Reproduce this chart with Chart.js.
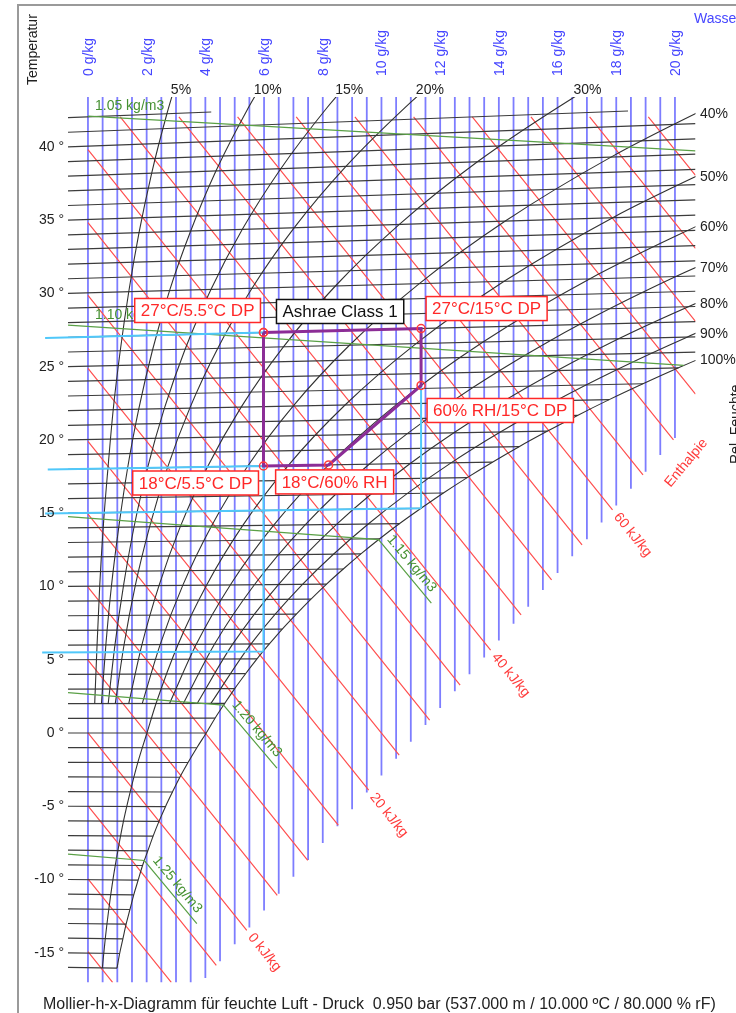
<!DOCTYPE html>
<html>
<head>
<meta charset="utf-8">
<script src="https://cdn.jsdelivr.net/npm/chart.js@4.4.1/dist/chart.umd.min.js"></script>
<style>
  html, body { margin: 0; padding: 0; background: #fff; }
  #wrap { width: 736px; height: 1013px; position: relative; }
</style>
</head>
<body>
<div id="wrap"><canvas id="myChart"></canvas></div>
<script>
// grid values
const waterLines = [0, 0.5, 1, 1.5, 2, 2.5, 3, 3.5, 4, 4.5, 5, 5.5, 6, 6.5, 7, 7.5, 8, 8.5, 9, 9.5, 10,
  10.5, 11, 11.5, 12, 12.5, 13, 13.5, 14, 14.5, 15, 15.5, 16, 16.5, 17, 17.5, 18, 18.5, 19, 19.5, 20];
const waterTicks = [0, 2, 4, 6, 8, 10, 12, 14, 16, 18, 20];
const tempLines = [-16, -15, -14, -13, -12, -11, -10, -9, -8, -7, -6, -5, -4, -3, -2, -1, 0, 1, 2, 3, 4, 5,
  6, 7, 8, 9, 10, 11, 12, 13, 14, 15, 16, 17, 18, 19, 20, 21, 22, 23, 24, 25, 26, 27, 28, 29, 30, 31, 32,
  33, 34, 35, 36, 37, 38, 39, 40, 41, 42];
const tempTicks = [-15, -10, -5, 0, 5, 10, 15, 20, 25, 30, 35, 40];
const enthalpyLines = [-15, -10, -5, 0, 5, 10, 15, 20, 25, 30, 35, 40, 45, 50, 55, 60, 65, 70, 75, 80, 85, 90];
const enthalpyTicks = [0, 20, 40, 60];

// saturation line (100 %), water content in g/kg
const satTemps = [-16, -15, -14, -13, -12, -11, -10, -9, -8, -7, -6, -5, -4, -3, -2, -1, 0, 1, 2, 3, 4, 5,
  6, 7, 8, 9, 10, 11, 12, 13, 14, 15, 16, 17, 18, 19, 20, 21, 22, 23, 24, 25];
const satX = [0.99, 1.08, 1.19, 1.30, 1.43, 1.56, 1.71, 1.86, 2.04, 2.22, 2.42, 2.64, 2.88, 3.13, 3.41, 3.71,
  4.03, 4.33, 4.66, 5.00, 5.37, 5.76, 6.18, 6.62, 7.10, 7.60, 8.13, 8.70, 9.30, 9.94, 10.62, 11.35, 12.11,
  12.92, 13.78, 14.69, 15.66, 16.68, 17.76, 18.91, 20.12, 21.40];
const isoCutTemps = [41, 42];
const isoCutX = [18.4, 4.2];

// relative humidity curves
const rhTemps = [2, 6, 10, 14, 18, 22, 26, 30, 34, 38, 42, 44];
const rh5 = [0.23, 0.31, 0.40, 0.52, 0.68, 0.86, 1.10, 1.39, 1.74, 2.17, 2.69, 2.99];
const rh10 = [0.46, 0.61, 0.80, 1.05, 1.35, 1.73, 2.20, 2.78, 3.50, 4.36, 5.41, 6.01];
const rh15 = [0.69, 0.92, 1.21, 1.57, 2.03, 2.60, 3.31, 4.19, 5.26, 6.57, 8.15, 9.06];
const rh20 = [0.93, 1.23, 1.61, 2.10, 2.71, 3.47, 4.42, 5.59, 7.03, 8.79, 10.92, 12.14];
const rh30 = [1.39, 1.84, 2.42, 3.15, 4.07, 5.22, 6.66, 8.43, 10.61, 13.27, 16.52, 18.40];
const rh40 = [1.85, 2.46, 3.23, 4.21, 5.44, 6.99, 8.91, 11.29, 14.22, 17.82, 22.22];
const rh60 = [2.78, 3.69, 4.85, 6.33, 8.20, 10.54, 13.46, 17.09, 21.58];
const rh70 = [3.25, 4.31, 5.67, 7.40, 9.58, 12.33, 15.76, 20.03, 25.33];
const rh80 = [3.72, 4.93, 6.49, 8.47, 10.98, 14.13, 18.08, 22.99];
const rh90 = [4.19, 5.55, 7.31, 9.55, 12.37, 15.94, 20.41, 25.99];
const rh50Temps = [-16, -14, -12, -10, -8, -6, -4, -2, 0, 2, 6, 10, 14, 18, 22, 26, 30, 34, 38];
const rh50 = [0.49, 0.59, 0.71, 0.85, 1.02, 1.21, 1.44, 1.70, 2.01, 2.32, 3.07, 4.04, 5.27, 6.82, 8.76,
  11.18, 14.18, 17.88, 22.44];

// density lines
const densityNames = ['1.05 kg/m3', '1.10 kg/m3', '1.15 kg/m3', '1.20 kg/m3', '1.25 kg/m3'];
const densityX = [[0, 20.7], [-0.68, 20.3], [-0.68, 9.9, 11.7], [-0.68, 4.62, 6.44], [-0.68, 1.92, 3.71]];
const densityT = [[42.04, 38.21], [27.83, 24.15], [14.76, 12.94, 8.67], [2.76, 1.88, -2.36], [-8.27, -8.66, -12.91]];

// Ashrae class 1 envelope
const stateLabels = ['27°C/5.5°C DP', '27°C/15°C DP', '60% RH/15°C DP', '18°C/60% RH', '18°C/5.5°C DP'];
const stateT = [27, 27, 23.2, 18, 18];
const stateX = [5.98, 11.35, 11.35, 8.2, 5.98];
const guideT = [27, 18, 15, 5.5];
const guideFromX = [-1.46, -1.37, -1.46, -1.56];
const guideToX = [5.98, 5.98, 11.35, 5.98];
const dropX = [5.98, 11.35];
const dropFromT = [5.5, 15];
const dropToT = [18, 23.2];

// diagram geometry
const xLeft = -0.68, xRight = 20.7, yTop = 43.35, yBottom = -17;
const hTopCut = 42.0;
const skew = (t, x) => t * (1 + 1.86 * x / 1006);
const enthalpyY = (h, x) => (h - 2.501 * x) / 1.006;
const fogEdge = x => Math.max(yBottom, 2.3 * x - 25.9);
const P = (x, t) => ({ x: x, y: skew(t, x) });
const GAP = { x: NaN, y: NaN };

function enthalpySeg(h) {
  let x0 = 0, y0 = enthalpyY(h, 0);
  if (y0 > hTopCut) { x0 = (h - 1.006 * hTopCut) / 2.501; y0 = hTopCut; }
  let x1 = (h + 25.9 * 1.006) / (2.501 + 2.3 * 1.006);
  if (enthalpyY(h, x1) < yBottom) x1 = (h - 1.006 * yBottom) / 2.501;
  if (x1 > xRight) x1 = xRight;
  return [{ x: x0, y: y0 }, { x: x1, y: enthalpyY(h, x1) }];
}

function isoEnd(t) {
  const c = isoCutTemps.indexOf(t);
  if (c >= 0) return isoCutX[c];
  const s = satTemps.indexOf(t);
  return s >= 0 ? Math.min(satX[s], xRight) : xRight;
}

let blueData = [];
waterLines.forEach(w => blueData.push({ x: w, y: yTop }, { x: w, y: fogEdge(w) }, GAP));

let redData = [];
enthalpyLines.forEach(h => redData.push(...enthalpySeg(h), GAP));

let isoData = [];
tempLines.forEach(t => isoData.push(P(xLeft, t), P(isoEnd(t), t), GAP));

const rhCurves = [
  { label: '5%', t: rhTemps, x: rh5 },
  { label: '10%', t: rhTemps, x: rh10 },
  { label: '15%', t: rhTemps, x: rh15 },
  { label: '20%', t: rhTemps, x: rh20 },
  { label: '30%', t: rhTemps, x: rh30 },
  { label: '40%', t: rhTemps, x: rh40 },
  { label: '50%', t: rh50Temps, x: rh50 },
  { label: '60%', t: rhTemps, x: rh60 },
  { label: '70%', t: rhTemps, x: rh70 },
  { label: '80%', t: rhTemps, x: rh80 },
  { label: '90%', t: rhTemps, x: rh90 },
  { label: '100%', t: satTemps, x: satX }
];

let greenData = [];
densityX.forEach((xs, i) => {
  xs.forEach((x, j) => greenData.push(P(x, densityT[i][j])));
  greenData.push(GAP);
});

let cyanData = [];
guideT.forEach((t, i) => cyanData.push(P(guideFromX[i], t), P(guideToX[i], t), GAP));
dropX.forEach((x, i) => cyanData.push(P(x, dropFromT[i]), P(x, dropToT[i]), GAP));

let purpleData = stateX.map((x, i) => P(x, stateT[i]));
purpleData.push(purpleData[0]);

const lineSet = (data, color, width, order, extra) => Object.assign({
  data: data, borderColor: color, borderWidth: width, pointRadius: 0,
  showLine: true, spanGaps: false, order: order
}, extra || {});

const datasets = [
  lineSet(blueData, 'rgb(125,125,255)', 1.8, 8),
  lineSet(redData, 'rgb(255,80,80)', 1.2, 7),
  lineSet(isoData, 'rgb(60,60,60)', 1.2, 6)
];
rhCurves.forEach(c => datasets.push(lineSet(c.x.map((x, i) => P(x, c.t[i])), 'rgb(50,50,50)', 1.1, 5,
  { cubicInterpolationMode: 'monotone' })));
datasets.push(lineSet(greenData, 'rgb(90,160,70)', 1.2, 4));
datasets.push(lineSet(cyanData, 'rgb(80,200,250)', 2, 3, { clip: false }));
datasets.push(lineSet(purpleData, 'rgb(140,45,150)', 3, 2, {
  pointRadius: 4, pointBorderColor: 'rgb(255,60,60)', pointBackgroundColor: 'rgba(255,255,255,0)',
  pointBorderWidth: 1.5
}));

const FONT = '"Liberation Sans", Arial, sans-serif';

function edgeCross(c) {
  const pts = c.x.map((x, i) => P(x, c.t[i]));
  for (let i = 1; i < pts.length; i++) {
    const a = pts[i - 1], b = pts[i];
    const fTop = b.y > yTop ? (yTop - a.y) / (b.y - a.y) : 2;
    const fRight = b.x > xRight ? (xRight - a.x) / (b.x - a.x) : 2;
    if (fTop < 2 || fRight < 2) {
      if (fTop <= fRight) return { top: true, x: a.x + fTop * (b.x - a.x) };
      return { top: false, y: a.y + fRight * (b.y - a.y) };
    }
  }
  return null;
}

const overlay = {
  id: 'overlay',
  beforeDraw(chart) {
    const c = chart.ctx;
    c.save();
    c.strokeStyle = '#9a9a9a';
    c.lineWidth = 2;
    c.beginPath();
    c.moveTo(18, 1013); c.lineTo(18, 5); c.lineTo(736, 5);
    c.stroke();
    c.restore();
  },
  afterDatasetsDraw(chart) {
    const c = chart.ctx, xs = chart.scales.x, ys = chart.scales.y;
    const pix = p => ({ x: xs.getPixelForValue(p.x), y: ys.getPixelForValue(p.y) });
    c.save();

    // temperature labels
    c.font = '14px ' + FONT;
    c.fillStyle = '#222';
    c.textAlign = 'right';
    c.textBaseline = 'middle';
    tempTicks.forEach(t => c.fillText(t + ' °', 64, ys.getPixelForValue(skew(t, xLeft))));

    // water content labels
    c.fillStyle = 'rgb(70,70,255)';
    waterTicks.forEach(w => {
      c.save();
      c.translate(xs.getPixelForValue(w) + 1, 76);
      c.rotate(-Math.PI / 2);
      c.textAlign = 'left';
      c.fillText(w + ' g/kg', 0, 0);
      c.restore();
    });
    c.textAlign = 'left';
    c.textBaseline = 'alphabetic';
    c.fillText('Wassergehalt', 694, 23);

    // axis titles
    c.fillStyle = '#222';
    c.save(); c.translate(37, 85); c.rotate(-Math.PI / 2); c.fillText('Temperatur', 0, 0); c.restore();
    c.save(); c.translate(740, 464); c.rotate(-Math.PI / 2); c.fillText('Rel. Feuchte', 0, 0); c.restore();

    // humidity labels
    rhCurves.forEach(cv => {
      const e = edgeCross(cv);
      if (!e) return;
      if (e.top) {
        c.textBaseline = 'alphabetic';
        c.fillText(cv.label, xs.getPixelForValue(e.x) - 1, 94);
      } else {
        c.textBaseline = 'middle';
        c.fillText(cv.label, 700, ys.getPixelForValue(e.y));
      }
    });

    // enthalpy labels
    c.fillStyle = 'rgb(255,60,60)';
    c.textBaseline = 'middle';
    enthalpyTicks.forEach(h => {
      const s = enthalpySeg(h), a = pix(s[0]), b = pix(s[1]);
      const ang = Math.atan2(b.y - a.y, b.x - a.x);
      c.save();
      c.translate(b.x + 6 * Math.cos(ang), b.y + 6 * Math.sin(ang));
      c.rotate(ang);
      c.fillText(h + ' kJ/kg', 0, 0);
      c.restore();
    });
    const e70 = pix(enthalpySeg(70)[1]);
    c.save(); c.translate(e70.x - 3, e70.y + 48); c.rotate(-50 * Math.PI / 180);
    c.textBaseline = 'alphabetic'; c.fillText('Enthalpie', 0, 0); c.restore();

    // density labels
    c.fillStyle = 'rgb(70,145,50)';
    densityNames.forEach((name, i) => {
      const dx = densityX[i], dt = densityT[i];
      if (dx.length === 2) {
        const s = pix(P(dx[0], dt[0]));
        c.textBaseline = 'alphabetic';
        c.fillText(name, xs.getPixelForValue(0) + 7, s.y - 6);
      } else {
        const s = pix(P(dx[1], dt[1])), e = pix(P(dx[2], dt[2]));
        const ang = Math.atan2(e.y - s.y, e.x - s.x);
        c.save();
        c.translate(s.x + 5 * Math.cos(ang) + 3 * Math.sin(ang), s.y + 5 * Math.sin(ang) - 3 * Math.cos(ang));
        c.rotate(ang);
        c.textBaseline = 'bottom';
        c.fillText(name, 0, 0);
        c.restore();
      }
    });

    // annotation boxes
    const pts = stateX.map((x, i) => pix(P(x, stateT[i])));
    function box(text, x, y, alignRight, fromBottom, color) {
      c.font = '17px ' + FONT;
      const w = c.measureText(text).width + 12, h = 24;
      const left = alignRight ? x - w : x;
      const top = fromBottom ? y - h : y;
      c.fillStyle = '#fff';
      c.fillRect(left, top, w, h);
      c.strokeStyle = color;
      c.lineWidth = 1.5;
      c.strokeRect(left, top, w, h);
      c.fillStyle = color;
      c.textAlign = 'left';
      c.textBaseline = 'middle';
      c.fillText(text, left + 6, top + h / 2 + 1);
    }
    const red = 'rgb(255,40,40)';
    box(stateLabels[0], pts[0].x - 3, pts[0].y - 10, true, true, red);
    box('Ashrae Class 1', pts[0].x + 13, pts[0].y - 9, false, true, '#111');
    box(stateLabels[1], pts[1].x + 5, pts[1].y - 8, false, true, red);
    box(stateLabels[2], pts[2].x + 6, pts[2].y + 13, false, false, red);
    box(stateLabels[3], pts[3].x - 53, pts[3].y + 5, false, false, red);
    box(stateLabels[4], pts[4].x - 5, pts[4].y + 5, true, false, red);

    // footer
    c.font = '16px ' + FONT;
    c.fillStyle = '#222';
    c.textAlign = 'left';
    c.textBaseline = 'alphabetic';
    c.fillText('Mollier-h-x-Diagramm für feuchte Luft - Druck  0.950 bar (537.000 m / 10.000 ºC / 80.000 % rF)', 43, 1009);
    c.restore();
  }
};

const ctx = document.getElementById('myChart').getContext('2d');
const chart = new Chart(ctx, {
  type: 'scatter',
  data: { datasets: datasets },
  options: {
    responsive: true,
    maintainAspectRatio: false,
    animation: false,
    devicePixelRatio: 1,
    layout: { padding: { left: 68, right: 40.5, top: 97, bottom: 30.6 } },
    plugins: { legend: { display: false }, tooltip: { enabled: false } },
    scales: {
      x: { type: 'linear', min: xLeft, max: xRight, display: false },
      y: { type: 'linear', min: yBottom, max: yTop, display: false }
    }
  },
  plugins: [overlay]
});
</script>
</body>
</html>
